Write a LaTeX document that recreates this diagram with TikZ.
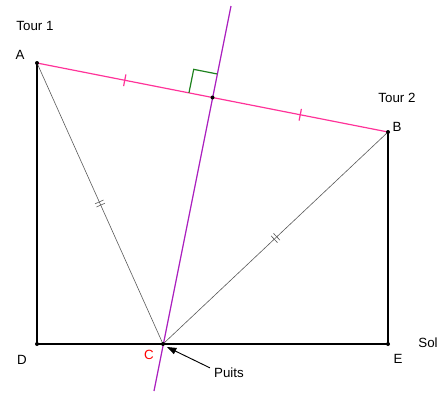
\documentclass[tikz,border=0pt]{standalone}
\usepackage{fontspec}
\setmainfont{Liberation Sans}
\usetikzlibrary{arrows.meta,calc}
\definecolor{pinkl}{RGB}{255,51,153}
\definecolor{purpl}{RGB}{170,30,190}
\definecolor{greenl}{RGB}{30,130,30}
\begin{document}
\begin{tikzpicture}[x=0.75pt,y=-0.75pt,
  side/.style={line width=1.5pt,black},
  thin/.style={line width=0.45pt,black!65},
  lbl/.style={font=\fontsize{10}{12}\selectfont,inner sep=0pt},
  dotp/.style={circle,fill=black,inner sep=0pt,minimum size=3pt}]
\useasboundingbox (0,0) rectangle (440,394);
\coordinate (A) at (37,63);
\coordinate (B) at (388,132);
\coordinate (D) at (37,344);
\coordinate (E) at (388,344);
\coordinate (C) at (163,344);
\coordinate (M) at ($(A)!0.5!(B)$);
\coordinate (P1) at (231,6);
\coordinate (P2) at (154,391);
% sides
\draw[side] (A) -- (D) -- (E) -- (B);
\draw[thin] (A) -- (C) -- (B);
\draw[pinkl,line width=0.9pt] (A) -- (B);
\draw[purpl,line width=0.9pt] (P1) -- (P2);
% right angle
\coordinate (R1) at ($(M)!18pt!(A)$);
\coordinate (R3) at ($(M)!18pt!(P1)$);
\draw[greenl,line width=0.9pt] (R1) -- ($(R1)+(R3)-(M)$) -- (R3);
% single ticks on AB
\foreach \t in {0.25,0.75}{
  \draw[pinkl,line width=0.9pt] ($(A)!\t!(B)!4.5pt!90:(B)$) -- ($(A)!\t!(B)!4.5pt!-90:(B)$);
}
% double ticks
\foreach \p/\q in {A/C,B/C}{
  \foreach \o in {-1.3pt,1.3pt}{
    \draw[thin] ($($(\p)!0.5!(\q)$)!\o!(\q)!3.5pt!90:(\q)$) -- ($($(\p)!0.5!(\q)$)!\o!(\q)!3.5pt!-90:(\q)$);
  }
}
% points
\foreach \n in {A,B,D,E,C,M}{ \node[dotp] (d\n) at (\n) {}; }
% labels
\node[lbl] (tour1) at (35,26) {Tour 1};
\node[lbl] (la) at (20,55) {A};
\node[lbl] (tour2) at (397,98) {Tour 2};
\node[lbl] (lb) at (397,127) {B};
\node[lbl] (ld) at (22,360) {D};
\node[lbl,text=red] (lc) at (149,355) {C};
\node[lbl] (le) at (398,359) {E};
\node[lbl] (sol) at (428,343) {Sol};
\node[lbl] (puits) at (229,373) {Puits};
\draw[-{Triangle[length=7pt,width=5pt]},line width=0.7pt] (puits.north west) ++(-3pt,0) -- (167,347);
\end{tikzpicture}
\end{document}
